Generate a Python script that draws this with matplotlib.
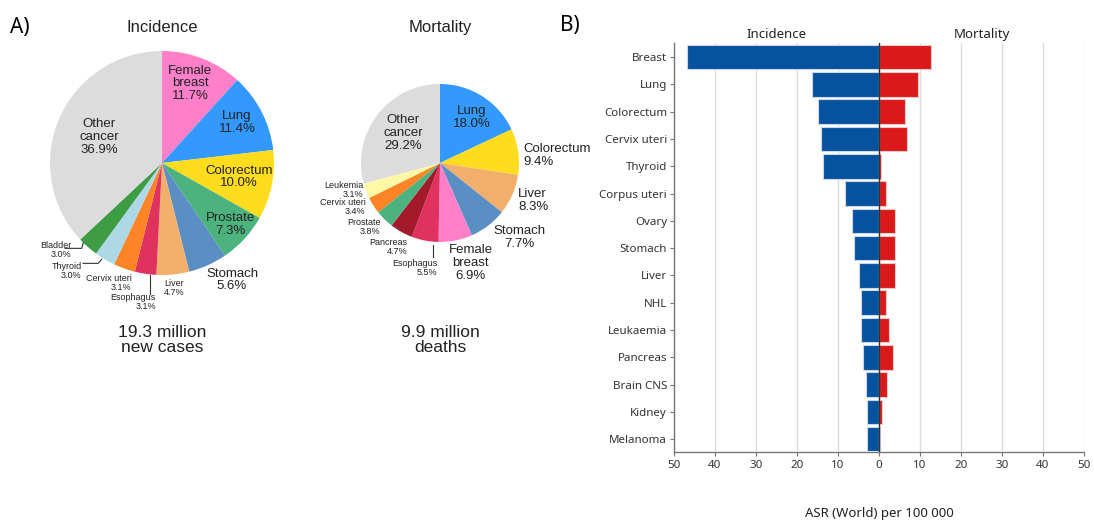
import matplotlib
matplotlib.use("Agg")
import matplotlib.pyplot as plt

W, H = 1094, 529

# --- pie data (share of all cancers, %) ---
inc_labels = ["Female\nbreast", "Lung", "Colorectum", "Prostate", "Stomach", "Liver",
              "Esophagus", "Cervix uteri", "Thyroid", "Bladder", "Other\ncancer"]
inc_values = [11.7, 11.4, 10.0, 7.3, 5.6, 4.7, 3.1, 3.1, 3.0, 3.0, 36.9]
inc_colors = ["#FF7FC8", "#3399FF", "#FFDD1E", "#4DB37E", "#5B8EC3", "#F2AF6B",
              "#E0325F", "#FF8426", "#ADD8E6", "#3E9C45", "#DCDCDC"]

mort_labels = ["Lung", "Colorectum", "Liver", "Stomach", "Female\nbreast", "Esophagus",
               "Pancreas", "Prostate", "Cervix uteri", "Leukemia", "Other\ncancer"]
mort_values = [18.0, 9.4, 8.3, 7.7, 6.9, 5.5, 4.7, 3.8, 3.4, 3.1, 29.2]
mort_colors = ["#3399FF", "#FFDD1E", "#F2AF6B", "#5B8EC3", "#FF7FC8", "#E0325F",
               "#A31A2B", "#4DB37E", "#FF8426", "#FFF9A6", "#DCDCDC"]

# --- bar data (ASR World per 100 000, female) ---
sites = ["Breast", "Lung", "Colorectum", "Cervix uteri", "Thyroid", "Corpus uteri",
         "Ovary", "Stomach", "Liver", "NHL", "Leukaemia", "Pancreas", "Brain CNS",
         "Kidney", "Melanoma"]
incidence = [46.8, 16.3, 15.0, 14.1, 13.7, 8.4, 6.6, 6.1, 4.8, 4.5, 4.3, 4.0, 3.2, 3.0, 3.0]
mortality = [12.6, 9.6, 6.3, 6.9, 0.5, 1.7, 4.0, 3.8, 3.9, 1.6, 2.4, 3.3, 2.0, 0.8, 0.3]

# label placement inside each pie (units of radius), size and alignment
inc_pos = [(0.25, 0.71, 9.5, "center"), (0.67, 0.36, 9.5, "center"), (0.69, -0.125, 9.5, "center"),
           (0.61, -0.55, 9.5, "center"), (0.625, -1.045, 9.5, "center"), (0.107, -1.116, 6.5, "center"),
           (-0.054, -1.24, 6.5, "right"), (-0.27, -1.07, 6.5, "right"), (-0.717, -0.964, 6.5, "right"),
           (-0.806, -0.777, 6.5, "right"), (-0.5625, 0.232, 9.5, "center")]
mort_pos = [(0.40, 0.58, 9.5, "center"), (1.05, 0.10, 9.5, "left"), (0.99, -0.47, 9.5, "left"),
            (1.0, -0.94, 9.5, "center"), (0.39, -1.27, 9.5, "center"), (-0.034, -1.33, 6.5, "right"),
            (-0.41, -1.06, 6.5, "right"), (-0.75, -0.81, 6.5, "right"), (-0.94, -0.56, 6.5, "right"),
            (-0.97, -0.34, 6.5, "right"), (-0.47, 0.38, 9.5, "center")]

PIE_FONT = "Liberation Sans"
UI_FONT = "Noto Sans"

fig = plt.figure(figsize=(W / 100, H / 100), dpi=100)
fig.patch.set_facecolor("white")


def pie_axes(cx, cy, r):
    return fig.add_axes([(cx - r) / W, (H - cy - r) / H, 2 * r / W, 2 * r / H])


def draw_pie(ax, values, colors, labels, pos):
    ax.pie(values, colors=colors, startangle=90, counterclock=False,
           wedgeprops=dict(linewidth=0))
    ax.set_xlim(-1, 1)
    ax.set_ylim(-1, 1)
    ax.set_aspect("auto")
    ax.axis("off")
    for lab, v, (x, y, fs, ha) in zip(labels, values, pos):
        ax.text(x, y, f"{lab}\n{v:.1f}%", ha=ha, va="center", fontsize=fs,
                family=PIE_FONT, color="#222222",
                linespacing=1.1 if fs > 8 else 1.05, clip_on=False)


# Incidence pie
ax1 = pie_axes(162, 163, 112)
draw_pie(ax1, inc_values, inc_colors, inc_labels, inc_pos)
leader = dict(color="#333333", lw=0.8, clip_on=False)
ax1.plot([-0.866, -0.717, -0.703], [-0.762, -0.762, -0.712], **leader)
ax1.plot([-0.705, -0.571, -0.538], [-0.896, -0.896, -0.860], **leader)
ax1.plot([-0.107, -0.107], [-1.0, -1.17], **leader)
ax1.text(0, 1.21, "Incidence", ha="center", va="center", fontsize=12,
         family=PIE_FONT, color="#222222")
ax1.text(0, -1.58, "19.3 million\nnew cases", ha="center", va="center", fontsize=12.5,
         family=PIE_FONT, color="#222222", linespacing=1.0, clip_on=False)

# Mortality pie
ax2 = pie_axes(440, 163, 79)
draw_pie(ax2, mort_values, mort_colors, mort_labels, mort_pos)
ax2.plot([-0.092, -0.092], [-1.04, -1.19], **leader)
ax2.text(0, 1.71, "Mortality", ha="center", va="center", fontsize=12,
         family=PIE_FONT, color="#222222", clip_on=False)
ax2.text(0, -2.24, "9.9 million\ndeaths", ha="center", va="center", fontsize=12.5,
         family=PIE_FONT, color="#222222", linespacing=1.0, clip_on=False)

fig.text(10 / W, 1 - 28 / H, "A)", fontsize=15, family=UI_FONT, va="center", ha="left")
fig.text(560 / W, 1 - 26 / H, "B)", fontsize=15, family=UI_FONT, va="center", ha="left")

# Back-to-back bar chart
ax3 = fig.add_axes([674 / W, (H - 452) / H, 410 / W, 409 / H])
ypos = list(range(len(sites)))
ax3.barh(ypos, [-v for v in incidence], height=0.9, color="#05539F",
         edgecolor="#C9D7E6", linewidth=0.8, zorder=3)
ax3.barh(ypos, mortality, height=0.9, color="#DA1A1A",
         edgecolor="#EBC9C9", linewidth=0.8, zorder=3)
ax3.axvline(0, color="#333333", lw=1, zorder=4)
ax3.set_xlim(-50, 50)
ax3.set_ylim(len(sites) - 0.53, -0.52)
ax3.set_xticks(range(-50, 51, 10))
ax3.set_xticklabels([str(abs(t)) for t in range(-50, 51, 10)])
ax3.set_yticks(ypos)
ax3.set_yticklabels(sites)
ax3.grid(axis="x", color="#DDDDDD", lw=1, zorder=0)
ax3.set_axisbelow(True)
for side in ("top", "right"):
    ax3.spines[side].set_visible(False)
for side in ("left", "bottom"):
    ax3.spines[side].set_color("#777777")
    ax3.spines[side].set_linewidth(1)
ax3.tick_params(axis="y", length=3, color="#777777", labelsize=8.3, labelcolor="#333333", pad=2)
ax3.tick_params(axis="x", length=3, color="#777777", labelsize=8.3, labelcolor="#333333", pad=3)
for lbl in ax3.get_xticklabels() + ax3.get_yticklabels():
    lbl.set_family(UI_FONT)
ax3.text(-25, 1.022, "Incidence", transform=ax3.get_xaxis_transform(), ha="center",
         va="center", fontsize=9.5, family=UI_FONT, color="#222222")
ax3.text(25, 1.022, "Mortality", transform=ax3.get_xaxis_transform(), ha="center",
         va="center", fontsize=9.5, family=UI_FONT, color="#222222")
fig.text(879 / W, 1 - 514 / H, "ASR (World) per 100 000", ha="center", va="center",
         fontsize=9.5, family=UI_FONT, color="#222222")

fig.savefig("out.png", dpi=100)
